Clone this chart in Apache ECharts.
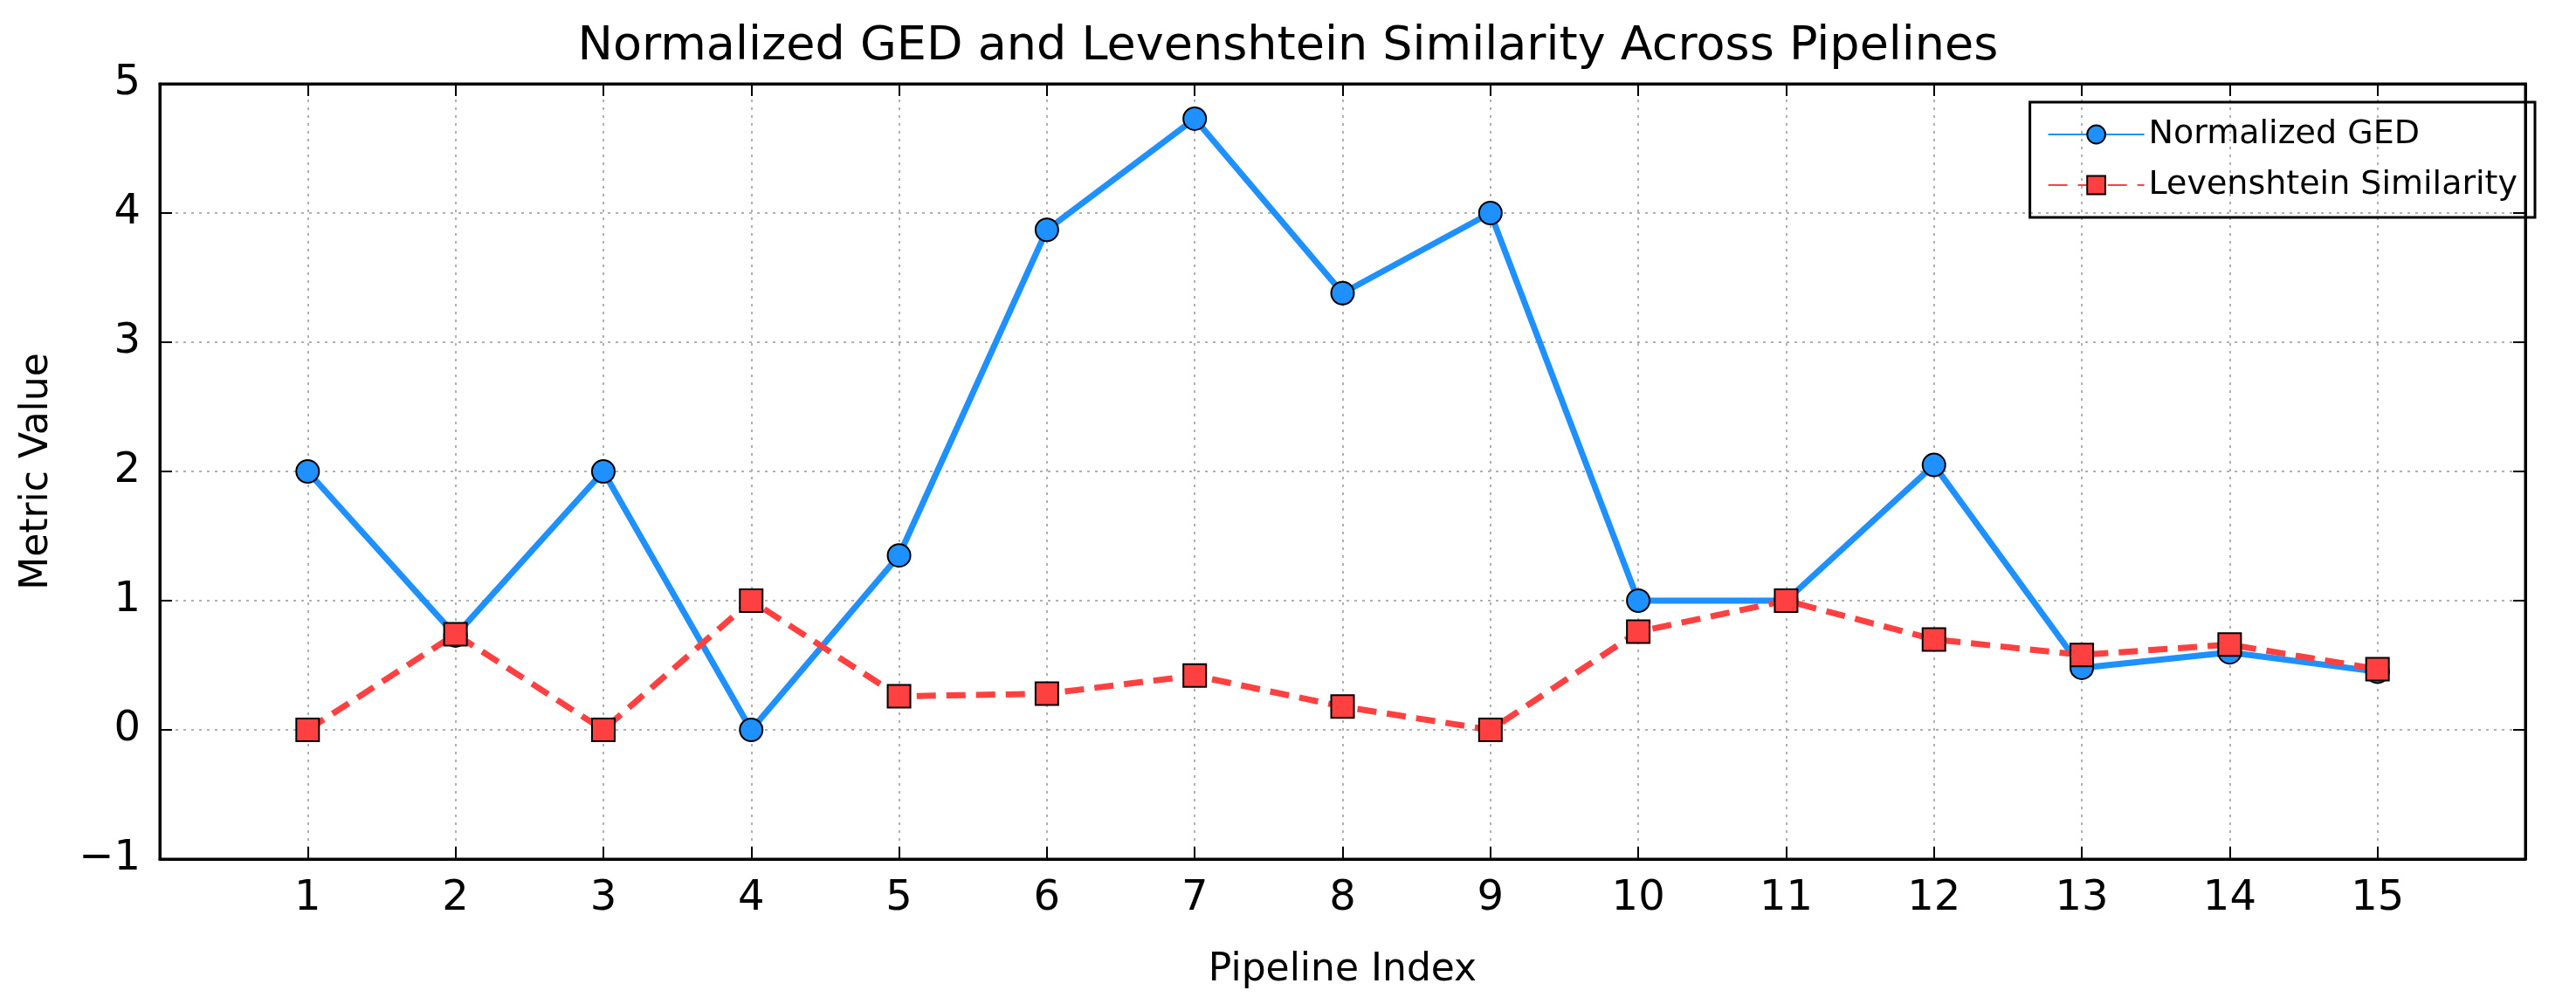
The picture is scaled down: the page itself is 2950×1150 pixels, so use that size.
<!DOCTYPE html>
<html>
<head>
<meta charset="utf-8">
<script src="https://cdn.jsdelivr.net/npm/echarts@6/dist/echarts.min.js"></script>
<style>html,body{margin:0;padding:0;background:#fff}#main{width:2950px;height:1150px}</style>
</head>
<body>
<div id="main"></div>
<script>
// data
var pipelines = [1, 2, 3, 4, 5, 6, 7, 8, 9, 10, 11, 12, 13, 14, 15];
var normalizedGED = [2.0, 0.73, 2.0, 0.0, 1.35, 3.87, 4.73, 3.38, 4.0, 1.0, 1.0, 2.05, 0.48, 0.6, 0.45];
var levenshteinSim = [0.0, 0.74, 0.0, 1.0, 0.26, 0.28, 0.42, 0.18, 0.0, 0.76, 1.0, 0.7, 0.58, 0.66, 0.47];

var chart = echarts.init(document.getElementById('main'));
var font = 'DejaVu Sans';

function pairs(ys) {
  return pipelines.map(function (x, i) { return [x, ys[i]]; });
}

var gridLine = { show: true, lineStyle: { color: '#b0b0b0', type: [3, 6], width: 2 } };
var tickIn = { show: true, inside: true, length: 14, lineStyle: { color: '#000', width: 2 } };
var frameLine = { show: true, onZero: false, lineStyle: { color: '#000', width: 3 } };

var option = {
  backgroundColor: '#fff',
  textStyle: { fontFamily: font },
  title: {
    text: 'Normalized GED and Levenshtein Similarity Across Pipelines',
    left: 'center', top: 22,
    textStyle: { fontFamily: font, fontSize: 54, fontWeight: 'normal', color: '#000' }
  },
  legend: {
    right: 47, top: 117,
    orient: 'vertical',
    padding: [18, 20, 18, 20],
    itemGap: 20,
    itemWidth: 110, itemHeight: 26,
    borderColor: '#000', borderWidth: 3, borderRadius: 0,
    textStyle: { fontFamily: font, fontSize: 38, color: '#000' },
    data: ['Normalized GED', 'Levenshtein Similarity']
  },
  grid: { left: 183, right: 58, top: 96, bottom: 166, show: true, borderColor: '#000', borderWidth: 3 },
  xAxis: [{
    type: 'value', min: 0, max: 16, interval: 1,
    name: 'Pipeline Index', nameLocation: 'middle', nameGap: 106,
    nameTextStyle: { fontFamily: font, fontSize: 44, color: '#000' },
    axisLine: frameLine,
    axisTick: tickIn,
    axisLabel: {
      fontFamily: font, fontSize: 48, color: '#000', margin: 22,
      formatter: function (v) { return (v >= 1 && v <= 15) ? String(v) : ''; }
    },
    splitLine: gridLine
  }, {
    type: 'value', position: 'top', min: 0, max: 16, interval: 1,
    axisLine: frameLine,
    axisTick: tickIn, axisLabel: { show: false }, splitLine: { show: false }
  }],
  yAxis: [{
    type: 'value', min: -1, max: 5, interval: 1,
    name: 'Metric Value', nameLocation: 'middle', nameGap: 118,
    nameTextStyle: { fontFamily: font, fontSize: 44, color: '#000' },
    axisLine: frameLine,
    axisTick: tickIn,
    axisLabel: {
      fontFamily: font, fontSize: 48, color: '#000', margin: 22,
      formatter: function (v) { return v < 0 ? '\u2212' + Math.abs(v) : String(v); }
    },
    splitLine: gridLine
  }, {
    type: 'value', position: 'right', min: -1, max: 5, interval: 1,
    axisLine: frameLine,
    axisTick: tickIn, axisLabel: { show: false }, splitLine: { show: false }
  }],
  series: [{
    name: 'Normalized GED',
    type: 'line',
    data: pairs(normalizedGED),
    symbol: 'circle', symbolSize: 26,
    lineStyle: { color: '#1e90ff', width: 7 },
    itemStyle: { color: '#1e90ff', borderColor: '#000', borderWidth: 2 },
    z: 3
  }, {
    name: 'Levenshtein Similarity',
    type: 'line',
    data: pairs(levenshteinSim),
    symbol: 'rect', symbolSize: 26,
    lineStyle: { color: '#ff4040', width: 7, type: [22, 12] },
    itemStyle: { color: '#ff4040', borderColor: '#000', borderWidth: 2 },
    z: 4
  }]
};

chart.setOption(option);
</script>
</body>
</html>
